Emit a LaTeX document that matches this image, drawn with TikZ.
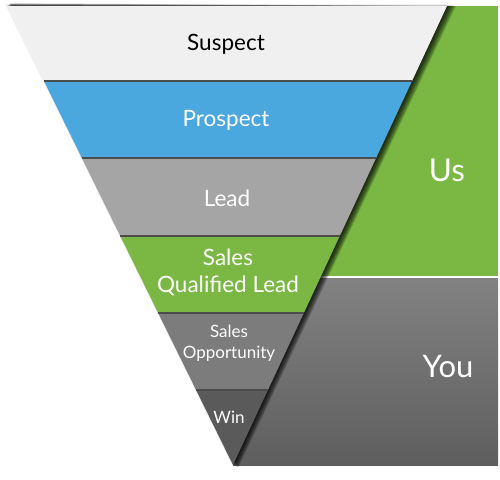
\documentclass[tikz,border=0pt]{standalone}
\usepackage{fontspec}
\setmainfont{Lato}
\usepackage{xcolor}
\usepackage{tikz}
\usetikzlibrary{calc}

\definecolor{suspectgray}{HTML}{F0F0F0}
\definecolor{prospectblue}{HTML}{4AA8DE}
\definecolor{leadgray}{HTML}{A5A5A5}
\definecolor{usgreen}{HTML}{7AB843}
\definecolor{oppgray}{HTML}{7C7C7C}
\definecolor{wingray}{HTML}{5A5A5A}
\definecolor{youtop}{HTML}{828282}
\definecolor{youbottom}{HTML}{5E5E5E}

\begin{document}
\begin{tikzpicture}[x=1pt, y=-1pt,
      label/.style={text=white, align=center, inner sep=0pt},
      sep/.style={draw=black!70, line width=1.6pt}
    ]
      \useasboundingbox (0,0) rectangle (500,479);
      \coordinate (tl) at (7,6);
      \coordinate (tr) at (447,6);
      \coordinate (apex) at (233,465);

      % right hand panels
      \fill[usgreen] (300,6) rectangle (498,276);
      \shade[top color=youtop, bottom color=youbottom] (233,278) rectangle (498,465);

      % shadow of the funnel
      \foreach \s in {1,...,9}
        \fill[black, opacity=0.14] ($(tl)+(\s*0.4,-0.3*\s)$) -- ($(tr)+(\s,0)$) -- ($(apex)+(\s*0.6,\s*0.3)$) -- cycle;
      \fill[black, opacity=0.06] ($(tl)+(-2,-2)$) -- ($(tr)+(1,-2)$) -- ($(apex)+(0,2)$) -- cycle;

      % funnel bands
      \fill[suspectgray]  (tl) -- (tr) -- ($(tr)!0.1634!(apex)$) -- ($(tl)!0.1634!(apex)$) -- cycle;
      \fill[prospectblue] ($(tl)!0.1634!(apex)$) -- ($(tr)!0.1634!(apex)$) -- ($(tr)!0.3312!(apex)$) -- ($(tl)!0.3312!(apex)$) -- cycle;
      \fill[leadgray]     ($(tl)!0.3312!(apex)$) -- ($(tr)!0.3312!(apex)$) -- ($(tr)!0.5011!(apex)$) -- ($(tl)!0.5011!(apex)$) -- cycle;
      \fill[usgreen]      ($(tl)!0.5011!(apex)$) -- ($(tr)!0.5011!(apex)$) -- ($(tr)!0.6688!(apex)$) -- ($(tl)!0.6688!(apex)$) -- cycle;
      \fill[oppgray]      ($(tl)!0.6688!(apex)$) -- ($(tr)!0.6688!(apex)$) -- ($(tr)!0.8366!(apex)$) -- ($(tl)!0.8366!(apex)$) -- cycle;
      \fill[wingray]      ($(tl)!0.8366!(apex)$) -- ($(tr)!0.8366!(apex)$) -- (apex) -- cycle;

      % lines between the bands
      \draw[sep] ($(tl)!0.1634!(apex)$) -- ($(tr)!0.1634!(apex)$);
      \draw[sep] ($(tl)!0.3312!(apex)$) -- ($(tr)!0.3312!(apex)$);
      \draw[sep] ($(tl)!0.5011!(apex)$) -- ($(tr)!0.5011!(apex)$);
      \draw[sep] ($(tl)!0.6688!(apex)$) -- ($(tr)!0.6688!(apex)$);
      \draw[sep] ($(tl)!0.8366!(apex)$) -- ($(tr)!0.8366!(apex)$);

      % labels
      \node[label, text=black, font=\fontsize{22.5}{27}\selectfont] (suspect) at (226,44) {Suspect};
      \node[label, font=\fontsize{22.5}{27}\selectfont] (prospect) at (226,120) {Prospect};
      \node[label, font=\fontsize{22.5}{27}\selectfont] (lead) at (227,198) {Lead};
      \node[label, font=\fontsize{22.5}{27}\selectfont] (sql) at (228,272) {Sales\\Qualified Lead};
      \node[label, font=\fontsize{17}{21}\selectfont] (opp) at (229,343) {Sales\\Opportunity};
      \node[label, font=\fontsize{17}{20}\selectfont] (win) at (229,417) {Win};
      \node[label, font=\fontsize{31.5}{36}\selectfont] (us) at (447,170) {Us};
      \node[label, font=\fontsize{31}{36}\selectfont] (you) at (448,367) {You};
    \end{tikzpicture}
\end{document}
